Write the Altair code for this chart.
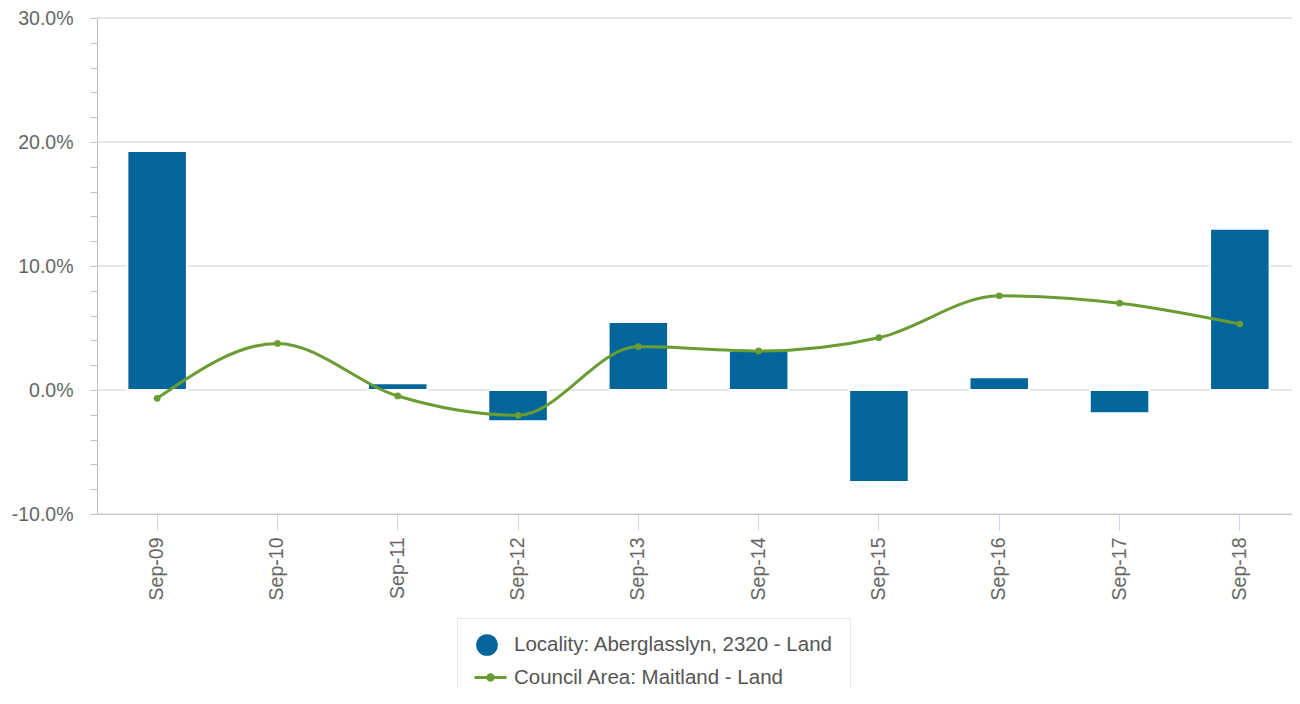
import altair as alt
import pandas as pd

categories = ["Sep-09", "Sep-10", "Sep-11", "Sep-12", "Sep-13",
              "Sep-14", "Sep-15", "Sep-16", "Sep-17", "Sep-18"]
locality_values = [0.1927, None, 0.0054, -0.0253, 0.0548,
                   0.0314, -0.0742, 0.0102, -0.0188, 0.1300]
council_values = [-0.0067, 0.0376, -0.0048, -0.0204, 0.0350,
                  0.0315, 0.0422, 0.0760, 0.0700, 0.0532]
locality_name = "Locality: Aberglasslyn, 2320 - Land"
council_name = "Council Area: Maitland - Land"
grid_values = [-0.1, 0.0, 0.1, 0.2, 0.3]
y_tick_values = [-0.10, -0.08, -0.06, -0.04, -0.02, 0.0, 0.02, 0.04, 0.06, 0.08,
                 0.10, 0.12, 0.14, 0.16, 0.18, 0.20, 0.22, 0.24, 0.26, 0.28, 0.30]

BLUE = "#02669a"
GREEN = "#6a9c34"
FONT = "Liberation Sans"

bars_df = pd.DataFrame({"month": categories, "value": locality_values,
                        "series": [locality_name] * len(categories)})
line_df = pd.DataFrame({"month": categories, "value": council_values,
                        "series": [council_name] * len(categories)})
grid_df = pd.DataFrame({"g": grid_values})

x_scale = alt.Scale(domain=categories, range=[0, 1203],
                    paddingInner=0.505, paddingOuter=0.2525)
y_scale = alt.Scale(domain=[-0.1, 0.3], nice=False, zero=False)

x_axis = alt.Axis(title=None, labelAngle=-90, labelFontSize=19.5, labelColor="#666666",
                  labelPadding=7, tickSize=16, tickColor="#ccd6eb", domainColor="#c6c6c6",
                  grid=False, labelFont=FONT)
y_axis = alt.Axis(title=None, values=y_tick_values,
                  labelExpr="abs(datum.value*10 - round(datum.value*10)) < 0.001 ? replace(format(datum.value, '.1%'), '\u2212', '-') : ''",
                  tickSize=7, tickColor="#c0c0c0", domainColor="#c0c0c0",
                  labelPadding=17, labelFontSize=19.5, labelColor="#666666",
                  grid=False, labelFont=FONT)

grid = alt.Chart(grid_df).mark_rule(color="#cccccc", strokeWidth=1).encode(
    y=alt.Y("g:Q", scale=y_scale, axis=y_axis)
)

bars = alt.Chart(bars_df).mark_bar(stroke="white", strokeWidth=2).encode(
    x=alt.X("month:N", scale=x_scale, axis=x_axis, sort=categories),
    y=alt.Y("value:Q", scale=y_scale, axis=y_axis),
    fill=alt.Fill("series:N",
                  scale=alt.Scale(domain=[locality_name], range=[BLUE]),
                  legend=alt.Legend(orient="none", legendX=360, legendY=600,
                                    title=" ", titleOrient="bottom", titleFontSize=20,
                                    titlePadding=12,
                                    padding=16, strokeColor="#e6e6e6",
                                    symbolType="circle", symbolSize=470,
                                    symbolStrokeWidth=0, symbolOffset=3,
                                    labelFontSize=20.5, labelColor="#555555",
                                    labelFont=FONT, labelOffset=16, labelLimit=500)),
)

line_symbol = "M-1,0L1,0M0.17,0A0.17,0.17,0,1,1,-0.17,0A0.17,0.17,0,1,1,0.17,0"

line = alt.Chart(line_df).mark_line(interpolate="monotone", strokeWidth=3).encode(
    x=alt.X("month:N", scale=x_scale, axis=x_axis, sort=categories),
    y=alt.Y("value:Q", scale=y_scale, axis=y_axis),
    stroke=alt.Stroke("series:N",
                      scale=alt.Scale(domain=[council_name], range=[GREEN]),
                      legend=alt.Legend(orient="none", legendX=376, legendY=642,
                                        title=None, padding=0,
                                        symbolType=line_symbol, symbolSize=1024,
                                        symbolStrokeWidth=3, symbolFillColor=GREEN,
                                        labelFontSize=20.5, labelColor="#555555",
                                        labelFont=FONT, labelOffset=6, labelLimit=500)),
)

points = alt.Chart(line_df).mark_circle(color=GREEN, size=45, opacity=1).encode(
    x=alt.X("month:N", scale=x_scale, axis=x_axis, sort=categories),
    y=alt.Y("value:Q", scale=y_scale, axis=y_axis),
)

chart = alt.layer(grid, bars, line, points).properties(
    width=1195, height=496,
    autosize=alt.AutoSizeParams(type="none"),
    padding={"left": 89, "top": 10, "right": 0, "bottom": 174},
).configure(font=FONT).configure_view(stroke=None)

chart.save("out.html", embed_options={"renderer": "svg", "actions": False})
